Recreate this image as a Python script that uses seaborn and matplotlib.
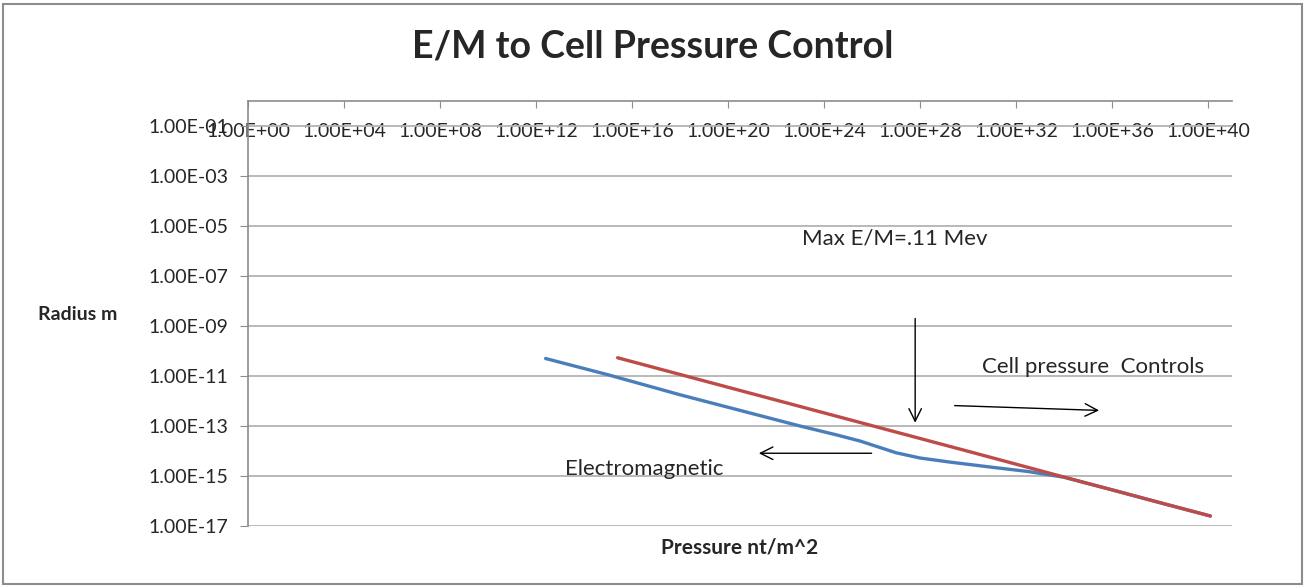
import numpy as np
import matplotlib
matplotlib.use('Agg')
import matplotlib.pyplot as plt
import matplotlib.ticker as mticker
from matplotlib.patches import Rectangle
import seaborn as sns

# log10 values
em_pressure_exp = [12.4, 15.0, 18.0, 20.0, 23.0, 24.5, 25.5, 26.3, 27.0, 28.0, 29.3, 31.0, 32.5, 34.0, 36.0, 38.0, 40.1]
em_radius_exp = [-10.3, -10.95, -11.75, -12.25, -13.0, -13.35, -13.6, -13.85, -14.07, -14.28, -14.45, -14.65, -14.82, -15.05, -15.55, -16.07, -16.6]
cell_pressure_exp = [15.4, 20.0, 25.0, 30.0, 35.0, 40.1]
cell_radius_exp = [-10.27, -11.45, -12.73, -14.01, -15.3, -16.6]

x_ticks = 10.0 ** np.arange(0, 41, 4)
y_ticks = 10.0 ** np.arange(-17, 0, 2)

sns.set_style('white')
plt.rcParams['font.family'] = ['Lato', 'DejaVu Sans']

fig = plt.figure(figsize=(13.06, 5.86), dpi=100)
ax = fig.add_axes([0.1899, 0.1024, 0.9433 - 0.1899, 0.8276 - 0.1024])

em_x = 10.0 ** np.array(em_pressure_exp)
em_y = 10.0 ** np.array(em_radius_exp)
cp_x = 10.0 ** np.array(cell_pressure_exp)
cp_y = 10.0 ** np.array(cell_radius_exp)

sns.lineplot(x=em_x, y=em_y, ax=ax, color='#4a7ebb', lw=2.4, sort=False)
sns.lineplot(x=cp_x, y=cp_y, ax=ax, color='#be4b48', lw=2.4, sort=False)

ax.set_xscale('log')
ax.set_yscale('log')
ax.set_xlim(1e0, 1e41)
ax.set_ylim(1e-17, 1e0)

ax.xaxis.set_major_locator(mticker.FixedLocator(x_ticks))
ax.yaxis.set_major_locator(mticker.FixedLocator(y_ticks))
ax.xaxis.set_minor_locator(mticker.NullLocator())
ax.yaxis.set_minor_locator(mticker.NullLocator())
fmt = mticker.FuncFormatter(lambda v, p: f"{v:.2E}")
ax.xaxis.set_major_formatter(fmt)
ax.yaxis.set_major_formatter(fmt)

ax.tick_params(axis='x', top=True, labeltop=True, bottom=False, labelbottom=False,
               direction='in', length=5, color='#8c8c8c', pad=-28, labelsize=14)
ax.tick_params(axis='y', left=True, direction='out', length=6, color='#8c8c8c',
               pad=8, labelsize=14)

ax.grid(axis='y', color='#b3b3b3', lw=1.3)
ax.grid(axis='x', visible=False)
for side in ['right', 'bottom']:
    ax.spines[side].set_visible(False)
for side in ['left', 'top']:
    ax.spines[side].set_color('#8c8c8c')
    ax.spines[side].set_linewidth(1.2)

arrow = dict(arrowstyle='->,head_length=0.9,head_width=0.45', color='black', lw=1)
ax.annotate('', xy=(10**27.8, 10**-12.98), xytext=(10**27.8, 10**-8.59), arrowprops=arrow)
ax.annotate('', xy=(10**35.58, 10**-12.38), xytext=(10**29.33, 10**-12.18), arrowprops=arrow)
ax.annotate('', xy=(10**21.17, 10**-14.09), xytext=(10**26.1, 10**-14.09), arrowprops=arrow)

ax.text(10**23.1, 10**-5.49, 'Max E/M=.11 Mev', fontsize=16, va='center')
ax.text(10**30.6, 10**-10.63, 'Cell pressure  Controls', fontsize=16, va='center')
ax.text(10**13.2, 10**-14.73, 'Electromagnetic', fontsize=16, va='center')

fig.text(0.5, 1 - 47 / 586, 'E/M to Cell Pressure Control', fontsize=27,
         fontweight='bold', ha='center', va='center')
fig.text(38 / 1306, 1 - 314 / 586, 'Radius m', fontsize=14, fontweight='bold', va='center')
fig.text(740 / 1306, 1 - 547 / 586, 'Pressure nt/m^2', fontsize=15, fontweight='bold',
         ha='center', va='center')

fig.patches.append(Rectangle((0.002, 0.004), 0.995, 0.99, transform=fig.transFigure,
                             fill=False, edgecolor='#8c8c8c', lw=1.5))

fig.savefig('out.png', dpi=100)
